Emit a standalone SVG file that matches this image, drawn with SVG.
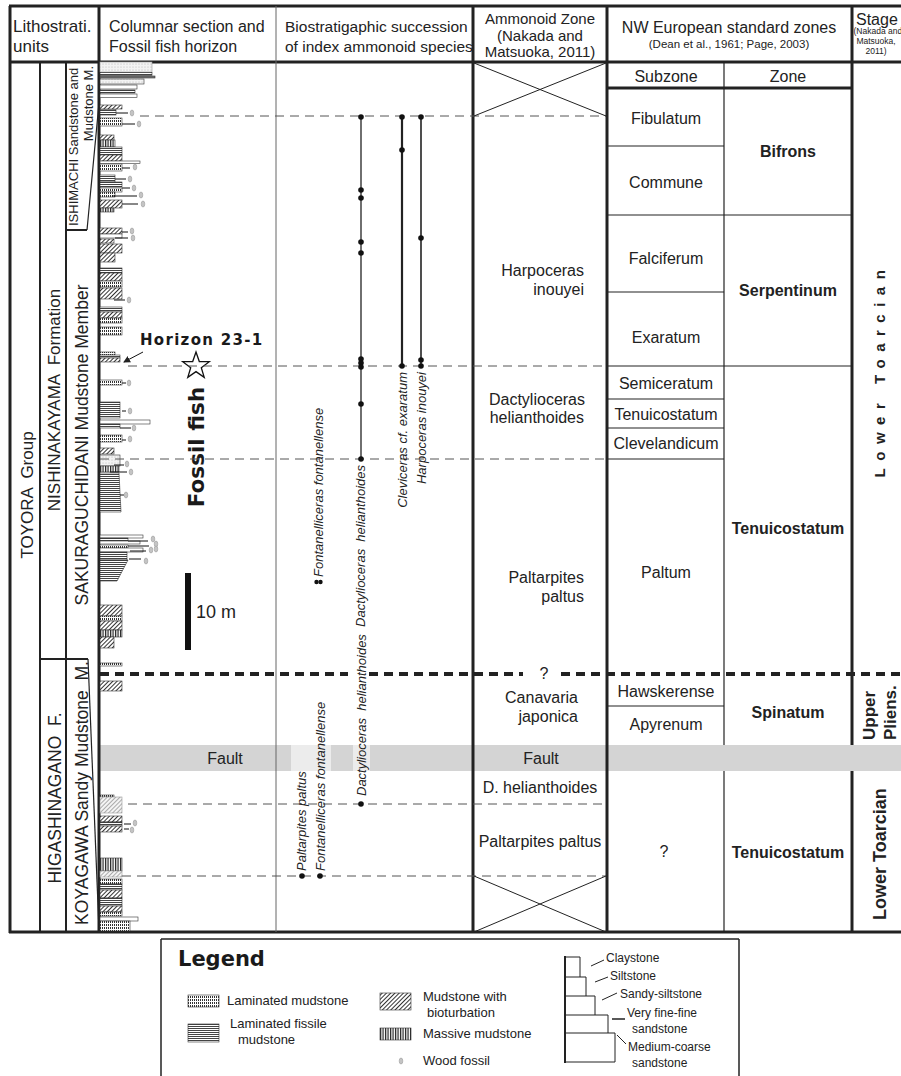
<svg xmlns="http://www.w3.org/2000/svg" xmlns:xlink="http://www.w3.org/1999/xlink" width="901" height="1076" viewBox="0 0 901 1076">
<style>
.t{font-family:"Liberation Sans",Arial,sans-serif;fill:#222}
.hv{font-family:"DejaVu Sans",sans-serif;font-weight:bold;fill:#1a1a1a}
.b{font-weight:bold}
.it{font-style:italic}
.m{text-anchor:middle}
.e{text-anchor:end}
.f16{font-size:16px}
.f15{font-size:15px}
.f13{font-size:13px}
.f12{font-size:12px}
.lk{stroke:#222;fill:none}
.w3{stroke-width:3}
.w2{stroke-width:2}
.w1{stroke-width:1.2}
.gl{stroke:#666;stroke-width:1;fill:none}
.dsh{stroke:#555;stroke-width:1;stroke-dasharray:9 6;fill:none}
.tdsh{stroke:#222;stroke-width:4;stroke-dasharray:9 6;fill:none}
.bed{stroke:#333;stroke-width:.6}
.ld{stroke:#111;stroke-width:1}
.dot{fill:#111}
</style>
<defs>
<pattern id="pLam" width="2" height="3" patternUnits="userSpaceOnUse"><rect width="2" height="3" fill="#fff"/><rect width="1" height="2" fill="#333"/></pattern>
<pattern id="pFis" width="3" height="2" patternUnits="userSpaceOnUse"><rect width="3" height="2" fill="#fff"/><rect width="3" height="1" fill="#444"/></pattern>
<pattern id="pBio" width="3" height="3" patternUnits="userSpaceOnUse" patternTransform="rotate(45)"><rect width="3" height="3" fill="#fff"/><rect width="1" height="3" fill="#333"/></pattern>
<pattern id="pBioL" width="3" height="3" patternUnits="userSpaceOnUse" patternTransform="rotate(45)"><rect width="3" height="3" fill="#f4f4f4"/><rect width="1" height="3" fill="#aaa"/></pattern>
<pattern id="pMas" width="2.5" height="4" patternUnits="userSpaceOnUse"><rect width="2.5" height="4" fill="#fff"/><rect width="1.2" height="4" fill="#222"/></pattern>
<pattern id="pSand" width="3" height="3" patternUnits="userSpaceOnUse"><rect width="3" height="3" fill="#f3f3f3"/><circle cx="1" cy="1" r=".5" fill="#aaa"/></pattern>
<g id="wd"><ellipse rx="1.8" ry="3" fill="#cfcfcf" stroke="#999" stroke-width=".6"/><line x1="0" y1="-2.6" x2="0" y2="2.6" stroke="#999" stroke-width=".4"/></g>
<marker id="ah" markerWidth="7" markerHeight="7" refX="6" refY="3.5" orient="auto" markerUnits="userSpaceOnUse"><path d="M0,0 L7,3.5 L0,7 z" fill="#222"/></marker>
</defs>
<rect width="901" height="1076" fill="#fff"/>

<!-- fault band -->
<g id="fault">
<rect x="100" y="745" width="801" height="26" fill="#d4d4d4"/>
<rect x="291" y="745" width="40" height="26" fill="#ececec"/>
<rect x="353" y="745" width="17" height="26" fill="#ececec"/>
<text class="t f16 m" x="225" y="764">Fault</text>
<text class="t f16 m" x="541" y="764">Fault</text>
</g>

<!-- frame and grid -->
<g id="frame">
<line class="lk w3" x1="9" y1="6" x2="901" y2="6"/>
<line class="lk w3" x1="10" y1="6" x2="10" y2="933"/>
<line class="lk w3" x1="9" y1="932" x2="901" y2="932"/>
<line class="lk w3" x1="10" y1="62" x2="901" y2="62"/>
<line class="lk w3" x1="99" y1="6" x2="99" y2="932"/>
<line class="gl" x1="276" y1="6" x2="276" y2="932"/>
<line class="lk w3" x1="473" y1="6" x2="473" y2="932"/>
<line class="lk w3" x1="607" y1="6" x2="607" y2="932"/>
<line class="lk w3" x1="852" y1="6" x2="852" y2="745"/>
<line class="lk w3" x1="852" y1="771" x2="852" y2="932"/>
<line class="lk w3" x1="607" y1="88" x2="852" y2="88"/>
<line class="lk w1" x1="724" y1="62" x2="724" y2="745"/>
<line class="lk w1" x1="724" y1="771" x2="724" y2="932"/>
<line class="lk w2" x1="40" y1="62" x2="40" y2="932"/>
<line class="lk w2" x1="66" y1="62" x2="66" y2="932"/>
</g>

<!-- header -->
<g id="header">
<text class="t" style="font-size:17px" x="13" y="32">Lithostrati.</text>
<text class="t" style="font-size:17px" x="13" y="52">units</text>
<text class="t f16" x="109" y="32">Columnar section and</text>
<text class="t f16" x="109" y="52">Fossil fish horizon</text>
<text class="t" style="font-size:15.5px" x="285" y="32">Biostratigaphic succession</text>
<text class="t" style="font-size:15.5px" x="285" y="52">of index ammonoid species</text>
<text class="t f15 m" x="540" y="24">Ammonoid Zone</text>
<text class="t f15 m" x="540" y="41">(Nakada and</text>
<text class="t f15 m" x="540" y="57">Matsuoka, 2011)</text>
<text class="t f16 m" x="729" y="33">NW European standard zones</text>
<text class="t m" style="font-size:11.5px" x="729" y="48">(Dean et al., 1961; Page, 2003)</text>
<text class="t f16" x="856" y="25">Stage</text>
<text class="t" style="font-size:8.5px" x="853.5" y="34">(Nakada and</text>
<text class="t m" style="font-size:8.5px" x="876" y="44">Matsuoka,</text>
<text class="t m" style="font-size:8.5px" x="876" y="54">2011)</text>
<text class="t f16 m" x="666" y="82">Subzone</text>
<text class="t f16 m" x="788" y="82">Zone</text>
</g>

<!-- lithostratigraphic units -->
<g id="litho">
<line class="lk w2" x1="66" y1="230" x2="87" y2="230"/>
<line class="lk w1" x1="87" y1="230" x2="99" y2="103"/>
<line class="lk w2" x1="40" y1="659" x2="88" y2="659"/>
<line class="lk w1" x1="88" y1="659" x2="99" y2="930"/>
<text class="t m" style="font-size:17px" xml:space="preserve" transform="translate(33,495) rotate(-90)">TOYORA  Group</text>
<text class="t m" style="font-size:17px" xml:space="preserve" transform="translate(60,400) rotate(-90)">NISHINAKAYAMA  Formation</text>
<text class="t m" style="font-size:17.5px" transform="translate(88,445) rotate(-90)">SAKURAGUCHIDANI Mudstone Member</text>
<text class="t f13" transform="translate(78,226) rotate(-90)">ISHIMACHI Sandstone and</text>
<text class="t f13 e" transform="translate(93,66) rotate(-90)">Mudstone M.</text>
<text class="t m" style="font-size:17.5px" xml:space="preserve" transform="translate(61,798) rotate(-90)">HIGASHINAGANO  F.</text>
<text class="t m" style="font-size:17.5px" xml:space="preserve" transform="translate(88,793) rotate(-90)">KOYAGAWA Sandy Mudstone  M.</text>
</g>

<!-- columnar section -->
<g id="column">
<g class="bed">
<rect x="100" y="62" width="52" height="10" fill="url(#pSand)" stroke="#999"/>
<rect x="100" y="72.5" width="52" height="3" fill="url(#pFis)"/>
<rect x="100" y="76" width="55" height="2" fill="#777"/>
<rect x="100" y="79" width="44" height="5" fill="url(#pSand)"/>
<rect x="100" y="85" width="37" height="4" fill="#fff"/>
<rect x="100" y="90" width="35" height="3" fill="url(#pFis)"/>
<rect x="100" y="94" width="37" height="3.5" fill="#fff"/>
<rect x="100" y="105" width="22" height="4" fill="url(#pBio)"/>
<rect x="100" y="109.5" width="16" height="5.5" fill="url(#pFis)"/>
<rect x="100" y="118" width="22" height="8" fill="url(#pLam)"/>
<rect x="100" y="135" width="14" height="5" fill="url(#pBio)"/>
<rect x="100" y="140" width="15" height="7" fill="url(#pMas)"/>
<rect x="100" y="147" width="22" height="8" fill="url(#pFis)"/>
<rect x="100" y="155" width="22" height="6" fill="url(#pBio)"/>
<rect x="100" y="161" width="40" height="2.5" fill="#fff"/>
<rect x="100" y="164" width="22" height="7" fill="url(#pLam)"/>
<rect x="100" y="175" width="15" height="7" fill="url(#pFis)"/>
<rect x="100" y="182" width="22" height="5" fill="url(#pFis)"/>
<rect x="100" y="188" width="22" height="4" fill="url(#pLam)"/>
<rect x="100" y="192" width="15" height="5" fill="url(#pLam)"/>
<rect x="100" y="200" width="22" height="8" fill="url(#pBio)"/>
<rect x="100" y="208" width="14" height="4" fill="url(#pMas)"/>
<rect x="100" y="228" width="22" height="6" fill="url(#pBio)"/>
<rect x="100" y="234" width="22" height="4" fill="#fff"/>
<rect x="100" y="239" width="14" height="4" fill="url(#pBio)"/>
<rect x="100" y="244" width="22" height="9" fill="url(#pBio)"/>
<rect x="100" y="253" width="15" height="9" fill="url(#pBio)"/>
<rect x="100" y="268" width="22" height="5" fill="url(#pFis)"/>
<rect x="100" y="273" width="22" height="8" fill="url(#pBio)"/>
<rect x="100" y="281" width="22" height="6" fill="url(#pLam)"/>
<rect x="100" y="288" width="22" height="11" fill="url(#pBio)"/>
<rect x="100" y="307" width="22" height="5" fill="url(#pFis)"/>
<rect x="100" y="312" width="22" height="6" fill="url(#pBio)"/>
<rect x="100" y="318" width="22" height="5" fill="url(#pLam)"/>
<rect x="100" y="327" width="22" height="8" fill="url(#pLam)"/>
<rect x="100" y="352" width="15" height="3" fill="url(#pLam)"/>
<rect x="100" y="355" width="20" height="3" fill="url(#pFis)"/>
<rect x="100" y="358" width="20" height="4" fill="url(#pBio)"/>
<rect x="100" y="380" width="22" height="5" fill="url(#pLam)"/>
<rect x="100" y="402" width="20" height="16" fill="url(#pFis)"/>
<rect x="100" y="420" width="50" height="4" fill="#fff"/>
<rect x="100" y="424" width="20" height="4" fill="url(#pFis)"/>
<rect x="100" y="435" width="22" height="7" fill="url(#pLam)"/>
<rect x="100" y="448" width="14" height="6" fill="url(#pBio)"/>
<rect x="100" y="455" width="20" height="11" fill="url(#pSand)"/>
<rect x="100" y="466" width="19" height="6" fill="url(#pMas)"/>
<polygon points="100,473 119,473 121,512 100,512" fill="url(#pFis)"/>
<rect x="100" y="535" width="43" height="3" fill="#fff"/>
<rect x="100" y="538" width="28" height="3" fill="url(#pFis)"/>
<rect x="100" y="541" width="40" height="3" fill="#fff"/>
<rect x="100" y="545" width="28" height="3" fill="url(#pLam)"/>
<rect x="100" y="548" width="43" height="4" fill="#fff"/>
<rect x="100" y="552" width="27" height="8" fill="url(#pFis)"/>
<polygon points="100,560 128,560 117,581 100,581" fill="url(#pFis)"/>
<rect x="100" y="605" width="22" height="11" fill="url(#pBio)"/>
<rect x="100" y="616" width="22" height="5" fill="url(#pLam)"/>
<rect x="100" y="621" width="22" height="9" fill="url(#pBio)"/>
<rect x="100" y="630" width="22" height="7" fill="url(#pMas)"/>
<rect x="100" y="637" width="14" height="11" fill="url(#pBio)"/>
<rect x="100" y="663" width="22" height="3" fill="url(#pLam)"/>
<rect x="100" y="681" width="22" height="10" fill="url(#pBio)"/>
<rect x="100" y="795" width="14" height="2" fill="url(#pLam)"/>
<rect x="100" y="797" width="22" height="16" fill="url(#pBioL)" stroke="#999"/>
<rect x="100" y="816" width="22" height="6" fill="url(#pBio)"/>
<rect x="100" y="822" width="22" height="4" fill="url(#pFis)"/>
<rect x="100" y="826" width="22" height="6" fill="url(#pBio)"/>
<rect x="100" y="858" width="22" height="13" fill="url(#pMas)"/>
<rect x="100" y="871" width="22" height="6" fill="url(#pBioL)" stroke="#999"/>
<rect x="100" y="879" width="22" height="5" fill="url(#pLam)"/>
<rect x="100" y="884" width="22" height="6" fill="url(#pFis)"/>
<rect x="100" y="890" width="22" height="8" fill="url(#pBio)"/>
<rect x="100" y="898" width="22" height="8" fill="url(#pFis)"/>
<rect x="100" y="906" width="22" height="6" fill="url(#pBio)"/>
<rect x="100" y="912" width="22" height="4" fill="url(#pLam)"/>
<rect x="100" y="917" width="38" height="4" fill="#fff"/>
<rect x="100" y="921" width="30" height="10" fill="url(#pLam)"/>
</g>
<g id="wood">
<line class="ld" x1="116" y1="113" x2="128" y2="113"/><use href="#wd" x="132" y="113"/>
<line class="ld" x1="122" y1="124" x2="135" y2="124"/><use href="#wd" x="139" y="124"/>
<line class="ld" x1="122" y1="168" x2="130" y2="168"/><use href="#wd" x="135" y="167"/>
<line class="ld" x1="115" y1="179" x2="126" y2="179"/><use href="#wd" x="130" y="179"/>
<line class="ld" x1="122" y1="188" x2="130" y2="188"/><use href="#wd" x="134" y="188"/>
<line class="ld" x1="112" y1="196" x2="137" y2="196"/><use href="#wd" x="141" y="195"/>
<line class="ld" x1="122" y1="204" x2="138" y2="204"/><use href="#wd" x="143" y="204"/>
<line class="ld" x1="122" y1="232" x2="128" y2="232"/><use href="#wd" x="132" y="231"/>
<line class="ld" x1="115" y1="238" x2="128" y2="238"/><use href="#wd" x="133" y="238"/>
<line class="ld" x1="114" y1="300" x2="125" y2="300"/><use href="#wd" x="129" y="300"/>
<line class="ld" x1="122" y1="383" x2="126" y2="383"/><use href="#wd" x="129" y="383"/>
<line class="ld" x1="122" y1="411" x2="126" y2="411"/><use href="#wd" x="130" y="411"/>
<line class="ld" x1="120" y1="428" x2="131" y2="428"/><use href="#wd" x="134" y="428"/>
<line class="ld" x1="122" y1="440" x2="126" y2="440"/><use href="#wd" x="130" y="439"/>
<line class="ld" x1="114" y1="465" x2="124" y2="465"/><use href="#wd" x="127" y="464"/>
<line class="ld" x1="110" y1="472" x2="127" y2="472"/><use href="#wd" x="131" y="472"/>
<line class="ld" x1="120" y1="495" x2="124" y2="495"/><use href="#wd" x="126" y="495"/>
<line class="ld" x1="128" y1="541" x2="148" y2="541"/><use href="#wd" x="153" y="539"/>
<line class="ld" x1="128" y1="546" x2="149" y2="546"/><use href="#wd" x="156" y="544"/>
<line class="ld" x1="130" y1="551" x2="146" y2="551"/><use href="#wd" x="151" y="550"/><use href="#wd" x="156" y="549"/>
<line class="ld" x1="129" y1="559" x2="141" y2="559"/><use href="#wd" x="146" y="561"/>
<line class="ld" x1="124" y1="824" x2="131" y2="824"/><use href="#wd" x="135" y="823"/>
<line class="ld" x1="124" y1="829" x2="129" y2="829"/><use href="#wd" x="132" y="830"/>
</g>
</g>

<!-- horizon / fossil fish / scale -->
<g id="fossil-fish">
<text class="hv" style="font-size:15px;letter-spacing:1.3px" x="140" y="345">Horizon 23-1</text>
<line class="ld" x1="143" y1="352" x2="124" y2="362" marker-end="url(#ah)"/>
<polygon points="196,352 199.3,361.5 209.3,361.7 201.3,367.7 204.2,377.3 196,371.6 187.8,377.3 190.7,367.7 182.7,361.7 192.7,361.5" fill="#fff" stroke="#111" stroke-width="1.3"/>
<text class="hv m" style="font-size:21.5px" transform="translate(204,447) rotate(-90)">Fossil fish</text>
</g>
<g id="scale">
<rect x="185" y="573" width="6" height="77" fill="#111"/>
<text class="t" style="font-size:18px" x="196" y="618">10 m</text>
</g>

<!-- connectors: correlation lines and ranges -->
<g id="connectors">
<line class="dsh" x1="140" y1="116" x2="606" y2="116"/>
<line class="dsh" x1="128" y1="366" x2="606" y2="366"/>
<line class="dsh" x1="100" y1="459" x2="606" y2="459"/>
<line class="dsh" x1="128" y1="804" x2="606" y2="804"/>
<line class="dsh" x1="122" y1="876" x2="606" y2="876"/>
<line class="tdsh" x1="100" y1="674" x2="348" y2="674"/>
<line class="tdsh" x1="369" y1="674" x2="523" y2="674"/>
<line class="tdsh" x1="561" y1="674" x2="901" y2="674"/>
<line class="lk" stroke-width="1.3" x1="361" y1="117" x2="361" y2="459"/>
<line class="lk" stroke-width="2.2" x1="402" y1="117" x2="402" y2="366"/>
<line class="lk" stroke-width="1.6" x1="421" y1="117" x2="421" y2="366"/>
<line class="lk" stroke-width="2.4" x1="361" y1="358" x2="361" y2="369"/>
</g>

<!-- biostratigraphic occurrences -->
<g id="biostrat">
<circle class="dot" cx="361" cy="117" r="2.8"/><circle class="dot" cx="361" cy="190" r="2.8"/><circle class="dot" cx="361" cy="198" r="2.8"/>
<circle class="dot" cx="361" cy="242" r="2.8"/><circle class="dot" cx="361" cy="253" r="2.8"/>
<circle class="dot" cx="361" cy="359" r="2.8"/><circle class="dot" cx="361" cy="363" r="2.8"/><circle class="dot" cx="361" cy="367" r="2.8"/>
<circle class="dot" cx="361" cy="404" r="2.8"/><circle class="dot" cx="361" cy="459" r="2.8"/>
<circle class="dot" cx="402" cy="117" r="2.8"/><circle class="dot" cx="402" cy="150" r="2.8"/><circle class="dot" cx="402" cy="366" r="2.8"/>
<circle class="dot" cx="421" cy="117" r="2.8"/><circle class="dot" cx="421" cy="238" r="2.8"/><circle class="dot" cx="421" cy="360" r="2.8"/><circle class="dot" cx="421" cy="366" r="2.8"/>
<circle class="dot" cx="316.5" cy="582" r="2.2"/><circle class="dot" cx="320.5" cy="582" r="2.2"/>
<circle class="dot" cx="302" cy="876" r="2.8"/><circle class="dot" cx="320" cy="876" r="2.8"/><circle class="dot" cx="361" cy="804" r="2.8"/>
<text class="t it f13" transform="translate(323,577) rotate(-90)">Fontanelliceras fontanellense</text>
<text class="t it f13 e" xml:space="preserve" transform="translate(365,465) rotate(-90)">Dactylioceras  helianthoides</text>
<text class="t it f13 e" transform="translate(407,372) rotate(-90)">Cleviceras cf. exaratum</text>
<text class="t it f13 e" transform="translate(426,372) rotate(-90)">Harpoceras inouyei</text>
<text class="t it f13" transform="translate(306,871) rotate(-90)">Paltarpites paltus</text>
<text class="t it f13" transform="translate(325,871) rotate(-90)">Fontanelliceras fontanellense</text>
<text class="t it f13" xml:space="preserve" transform="translate(366,796) rotate(-90)">Dactylioceras  helianthoides</text>
</g>

<!-- ammonoid zones -->
<g id="ammonoid-zone">
<line class="lk" stroke-width="1" x1="474" y1="63" x2="606" y2="116"/>
<line class="lk" stroke-width="1" x1="474" y1="116" x2="606" y2="63"/>
<line class="lk" stroke-width="1" x1="474" y1="876" x2="606" y2="932"/>
<line class="lk" stroke-width="1" x1="474" y1="932" x2="606" y2="876"/>
<text class="t f16 e" x="584" y="276">Harpoceras</text>
<text class="t f16 e" x="584" y="295">inouyei</text>
<text class="t f16 e" x="585" y="405">Dactylioceras</text>
<text class="t f16 e" x="584" y="423">helianthoides</text>
<text class="t f16 e" x="584" y="583">Paltarpites</text>
<text class="t f16 e" x="584" y="602">paltus</text>
<text class="t f16 m" x="544" y="679">?</text>
<text class="t f16 e" x="578" y="703">Canavaria</text>
<text class="t f16 e" x="578" y="722">japonica</text>
<text class="t f16 m" x="540" y="793">D. helianthoides</text>
<text class="t f16 m" x="540" y="847">Paltarpites paltus</text>
</g>

<!-- NW European standard zones -->
<g id="nw-zones">
<g class="lk w1">
<line x1="607" y1="146" x2="724" y2="146"/>
<line x1="607" y1="215" x2="852" y2="215"/>
<line x1="607" y1="292" x2="724" y2="292"/>
<line x1="607" y1="366" x2="852" y2="366"/>
<line x1="607" y1="399" x2="724" y2="399"/>
<line x1="607" y1="428" x2="724" y2="428"/>
<line x1="607" y1="459" x2="724" y2="459"/>
<line x1="607" y1="706" x2="724" y2="706"/>
</g>
<text class="t f16 m" x="666" y="124">Fibulatum</text>
<text class="t f16 m" x="666" y="188">Commune</text>
<text class="t f16 m" x="666" y="264">Falciferum</text>
<text class="t f16 m" x="666" y="343">Exaratum</text>
<text class="t f16 m" x="666" y="389">Semiceratum</text>
<text class="t f16 m" x="666" y="420">Tenuicostatum</text>
<text class="t f16 m" x="666" y="449">Clevelandicum</text>
<text class="t f16 m" x="666" y="578">Paltum</text>
<text class="t f16 m" x="666" y="697">Hawskerense</text>
<text class="t f16 m" x="666" y="730">Apyrenum</text>
<text class="t f16 m" x="664" y="857">?</text>
<text class="t f16 m b" x="788" y="157">Bifrons</text>
<text class="t f16 m b" x="788" y="296">Serpentinum</text>
<text class="t f16 m b" x="788" y="534">Tenuicostatum</text>
<text class="t f16 m b" x="788" y="718">Spinatum</text>
<text class="t f16 m b" x="788" y="858">Tenuicostatum</text>
</g>

<!-- stage -->
<g id="stage">
<text class="t b m" style="font-size:15px;letter-spacing:7.5px" transform="translate(885,370) rotate(-90)">Lower Toarcian</text>
<text class="t b" style="font-size:17px" transform="translate(875,740) rotate(-90)">Upper</text>
<text class="t b" style="font-size:17px" transform="translate(896,740) rotate(-90)">Pliens.</text>
<text class="t b" style="font-size:18px" transform="translate(886,920) rotate(-90)">Lower Toarcian</text>
</g>

<!-- legend -->
<g id="legend">
<line class="lk" stroke-width="1.5" x1="161" y1="939" x2="739" y2="939"/>
<line class="lk" stroke-width="1.5" x1="161" y1="939" x2="161" y2="1076"/>
<line class="lk" stroke-width="1.5" x1="739" y1="939" x2="739" y2="1076"/>
<text class="hv" style="font-size:21px" x="178" y="966">Legend</text>
<rect class="bed" x="188" y="995" width="31" height="12" fill="url(#pLam)"/>
<text class="t f13" x="227" y="1005">Laminated mudstone</text>
<rect class="bed" x="188" y="1024" width="31" height="18" fill="url(#pFis)"/>
<text class="t f13" x="230" y="1028">Laminated fissile</text>
<text class="t f13" x="238" y="1044">mudstone</text>
<rect class="bed" x="380" y="993" width="31" height="17" fill="url(#pBio)"/>
<text class="t f13" x="423" y="1001">Mudstone with</text>
<text class="t f13" x="427" y="1017">bioturbation</text>
<rect class="bed" x="380" y="1028" width="31" height="12" fill="url(#pMas)"/>
<text class="t f13" x="423" y="1038">Massive mudstone</text>
<use href="#wd" x="401" y="1061"/>
<text class="t f13" x="423" y="1065">Wood fossil</text>
<g class="lk" stroke-width="1">
<path d="M565,957 H580 V977 H586 V996 H595 V1015 H608 V1033 H615 V1062 H565"/>
<line x1="565" y1="977" x2="580" y2="977"/>
<line x1="565" y1="996" x2="586" y2="996"/>
<line x1="565" y1="1015" x2="595" y2="1015"/>
<line x1="565" y1="1033" x2="608" y2="1033"/>
<line x1="591" y1="966" x2="604" y2="960"/>
<line x1="595" y1="982" x2="608" y2="977"/>
<line x1="602" y1="1000" x2="617" y2="993"/>
<line x1="612" y1="1019" x2="625" y2="1019" stroke-width="1.5"/>
<line x1="617" y1="1035" x2="626" y2="1044"/>
</g>
<line class="lk w2" x1="565" y1="956" x2="565" y2="1063"/>
<text class="t f12" x="606" y="962">Claystone</text>
<text class="t f12" x="610" y="980">Siltstone</text>
<text class="t f12" x="620" y="998">Sandy-siltstone</text>
<text class="t f12" x="627" y="1017">Very fine-fine</text>
<text class="t f12" x="632" y="1033">sandstone</text>
<text class="t f12" x="628" y="1051">Medium-coarse</text>
<text class="t f12" x="632" y="1067">sandstone</text>
</g>
</svg>
